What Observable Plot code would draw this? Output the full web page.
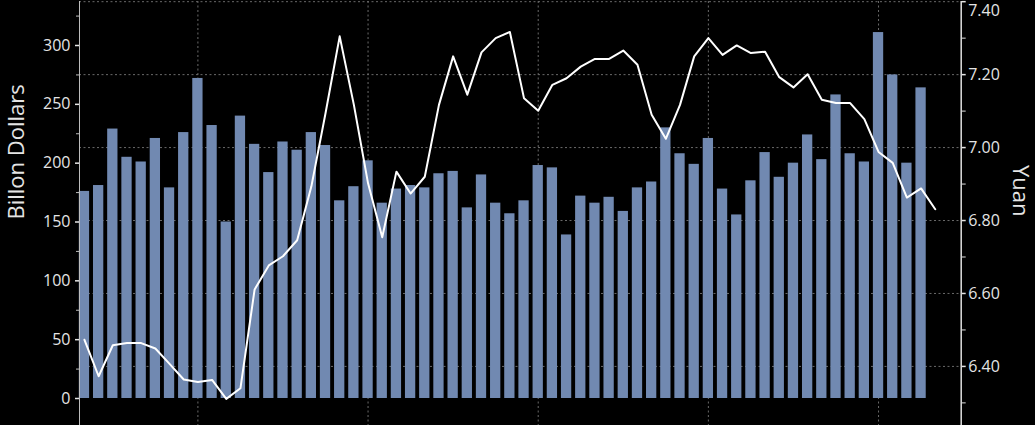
<!DOCTYPE html>
<html><head><meta charset="utf-8">
<script src="https://cdn.jsdelivr.net/npm/d3@7"></script>
<script src="https://cdn.jsdelivr.net/npm/@observablehq/plot@0.6"></script>
<style>
html,body{margin:0;padding:0;background:#000;overflow:hidden}
</style></head><body><div id="chart"></div>
<script>
// Monthly categories (bars: Apr 2021 – Mar 2026; yuan line runs one month further)
const months = [
  "2021-04","2021-05","2021-06","2021-07","2021-08","2021-09","2021-10","2021-11","2021-12",
  "2022-01","2022-02","2022-03","2022-04","2022-05","2022-06","2022-07","2022-08","2022-09","2022-10","2022-11","2022-12",
  "2023-01","2023-02","2023-03","2023-04","2023-05","2023-06","2023-07","2023-08","2023-09","2023-10","2023-11","2023-12",
  "2024-01","2024-02","2024-03","2024-04","2024-05","2024-06","2024-07","2024-08","2024-09","2024-10","2024-11","2024-12",
  "2025-01","2025-02","2025-03","2025-04","2025-05","2025-06","2025-07","2025-08","2025-09","2025-10","2025-11","2025-12",
  "2026-01","2026-02","2026-03"
];
const yuanMonths = [...months, "2026-04"];

// Bars, billion dollars (left axis)
const billions = [
  176,181,229,205,201,221,179,226,272,
  232,150,240,216,192,218,211,226,215,168,180,202,
  166,178,181,179,191,193,162,190,166,157,168,198,
  196,139,172,166,171,159,179,184,230,208,199,221,
  178,156,185,209,188,200,224,203,258,208,201,311,
  275,200,264
];

// Line, yuan (right axis)
const yuan = [
  6.473,6.373,6.458,6.464,6.464,6.449,6.407,6.364,6.357,
  6.363,6.311,6.340,6.611,6.677,6.702,6.746,6.893,7.094,7.305,7.117,6.902,
  6.754,6.934,6.874,6.920,7.117,7.250,7.145,7.261,7.300,7.317,7.135,7.101,
  7.172,7.190,7.222,7.243,7.243,7.266,7.227,7.090,7.024,7.117,7.250,7.300,
  7.254,7.280,7.259,7.263,7.193,7.165,7.201,7.131,7.122,7.122,7.078,6.988,
  6.958,6.863,6.888,6.831
];

const leftTicks = [0,50,100,150,200,250,300];
const leftMinor = [25,75,125,175,225,275,325];
const yuanTicks = [6.40,6.60,6.80,7.00,7.20,7.40];
const yuanMinor = [6.30,6.50,6.70,6.90,7.10,7.30];
const yearMarks = ["2021-12","2022-12","2023-12","2024-12","2025-12"];

const leftDomain = [-22.95, 337.4];
const yuanDomain = [6.238, 7.4005];
const toLeft = d3.scaleLinear().domain(yuanDomain).range(leftDomain);

const bars = months.map((m, i) => ({m, i, v: billions[i]}));
const line = yuanMonths.map((m, i) => ({m, i, u: yuan[i]}));
const idx = m => yuanMonths.indexOf(m);
const topYuan = yuanTicks[yuanTicks.length - 1];

const TXT = "#e4e4e4";
const GRID = "#6a6a6a";

const chart = Plot.plot({
  width: 1035,
  height: 425,
  marginTop: 1,
  marginBottom: 0,
  marginLeft: 79,
  marginRight: 74.3,
  style: {background: "#000", color: TXT, fontFamily: "'Open Sans', sans-serif", fontSize: "16px", overflow: "visible"},
  x: {domain: [-0.35, 61.83], axis: null},
  y: {domain: leftDomain, axis: null},
  marks: [
    Plot.ruleY(yuanTicks.map(toLeft), {stroke: GRID, strokeDasharray: "2,2.5", strokeWidth: 1}),
    Plot.ruleX(yearMarks.map(idx), {stroke: GRID, strokeDasharray: "2,2.5", strokeWidth: 1}),
    Plot.rectY(bars, {x1: d => d.i - 0.363, x2: d => d.i + 0.363, y1: 0, y2: "v", fill: "#7189b1"}),
    Plot.line(line, {x: "i", y: d => toLeft(d.u), stroke: "#ffffff", strokeWidth: 2, curve: "linear"}),
    Plot.ruleX([-0.35], {stroke: "#bdbdbd", strokeWidth: 1}),
    Plot.ruleX([61.83], {stroke: "#e0e0e0", strokeWidth: 1.5}),
    Plot.axisY({anchor: "left", ticks: leftTicks, tickSize: 4, tickPadding: 5, tickFormat: d => String(d), label: null, fontSize: 16, color: TXT, strokeWidth: 1.5}),
    Plot.axisY({anchor: "left", ticks: leftMinor, tickSize: 3, tickFormat: () => "", label: null, color: "#bdbdbd"}),
    Plot.axisY({anchor: "right", ticks: yuanTicks.map(toLeft), tickSize: 4, tickPadding: 3,
      tickFormat: v => (Math.abs(toLeft.invert(v) - topYuan) < 1e-6 ? "" : toLeft.invert(v).toFixed(2)),
      label: null, fontSize: 16, color: TXT, strokeWidth: 1.5}),
    Plot.text([topYuan], {x: 61.83, y: d => toLeft(d), text: d => d.toFixed(2), textAnchor: "start", dx: 7, dy: 9, fontSize: 16, fill: TXT}),
    Plot.axisY({anchor: "right", ticks: yuanMinor.map(toLeft), tickSize: 4, tickFormat: () => "", label: null, color: "#e0e0e0"}),
    Plot.text(["Billon Dollars"], {frameAnchor: "left", rotate: -90, dx: -63, dy: 6, fontSize: 22, fill: TXT}),
    Plot.text(["Yuan"], {frameAnchor: "right", rotate: 90, dx: 59, dy: 3, fontSize: 22, fill: TXT})
  ]
});
document.getElementById("chart").append(chart);
</script>
</body></html>
